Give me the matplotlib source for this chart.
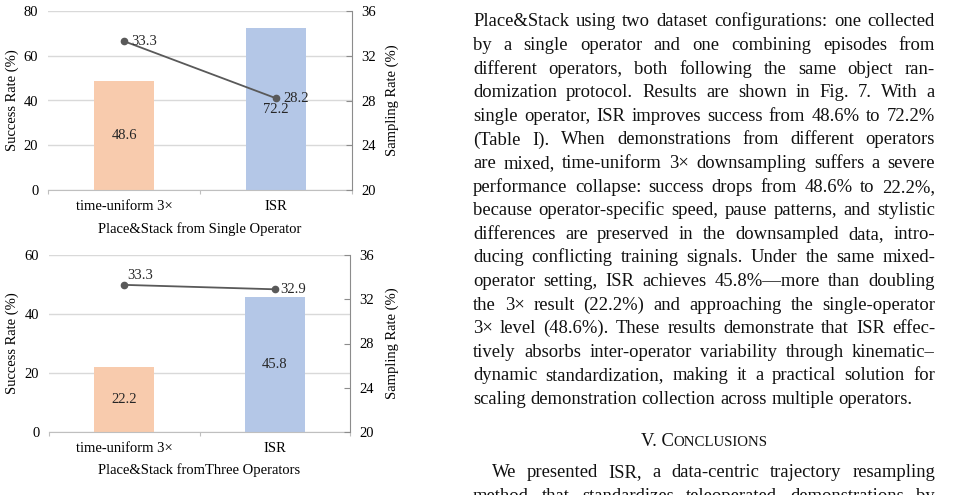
import matplotlib

matplotlib.use("Agg")
import matplotlib.pyplot as plt
from matplotlib.ticker import FixedLocator

plt.rcParams["font.family"] = ["Liberation Serif", "DejaVu Serif"]

W, H = 972, 495

CATEGORIES = ["time-uniform 3×", "ISR"]
SINGLE_SUCCESS = [48.6, 72.2]
SINGLE_SAMPLING = [33.3, 28.2]
MULTI_SUCCESS = [22.2, 45.8]
MULTI_SAMPLING = [33.3, 32.9]

BAR_COLORS = ["#F8CBAD", "#B4C7E7"]
LINE_COLOR = "#595959"
GRID_COLOR = "#D9D9D9"
AXIS_COLOR = "#8C8C8C"

PARAGRAPH = [
    "Place&Stack using two dataset configurations: one collected",
    "by a single operator and one combining episodes from",
    "different operators, both following the same object ran-",
    "domization protocol. Results are shown in Fig. 7. With a",
    "single operator, ISR improves success from 48.6% to 72.2%",
    "(Table I). When demonstrations from different operators",
    "are mixed, time-uniform 3× downsampling suffers a severe",
    "performance collapse: success drops from 48.6% to 22.2%,",
    "because operator-specific speed, pause patterns, and stylistic",
    "differences are preserved in the downsampled data, intro-",
    "ducing conflicting training signals. Under the same mixed-",
    "operator setting, ISR achieves 45.8%—more than doubling",
    "the 3× result (22.2%) and approaching the single-operator",
    "3× level (48.6%). These results demonstrate that ISR effec-",
    "tively absorbs inter-operator variability through kinematic–",
    "dynamic standardization, making it a practical solution for",
    "scaling demonstration collection across multiple operators.",
]
CONCLUSION = [
    "We presented ISR, a data-centric trajectory resampling",
    "method that standardizes teleoperated demonstrations by",
]

CHART_FS = 10.5
TEXT_FS = 13.4


def fx(px):
    return px / W


def fy(py):
    return 1 - py / H


def draw_panel(fig, rect_px, success, sampling, ymax, xlabel, xlabel_top, label_offsets):
    left, top, right, bottom = rect_px
    ax = fig.add_axes([fx(left), fy(bottom), (right - left) / W, (bottom - top) / H])
    x = range(len(CATEGORIES))
    ax.bar(x, success, width=0.4, color=BAR_COLORS, zorder=2)
    for i, v in enumerate(success):
        ax.text(i, v / 2, f"{v}", ha="center", va="center", fontsize=CHART_FS, color="#262626", zorder=3)

    ax.set_xlim(-0.5, 1.5)
    ax.set_ylim(0, ymax)
    ax.set_yticks(range(0, ymax + 1, 20))
    ax.set_xticks(list(x))
    ax.set_xticklabels(CATEGORIES, fontsize=CHART_FS)
    ax.xaxis.set_minor_locator(FixedLocator([-0.5, 0.5, 1.5]))
    ax.tick_params(axis="x", which="major", length=0, pad=7)
    ax.tick_params(axis="x", which="minor", length=3, color="#BFBFBF", width=0.8)
    ax.tick_params(axis="y", length=0, pad=7, labelsize=CHART_FS)
    ax.yaxis.grid(True, color=GRID_COLOR, linewidth=1.0, zorder=0)
    ax.set_axisbelow(True)
    for side in ["left", "top", "right"]:
        ax.spines[side].set_visible(False)
    ax.spines["bottom"].set_color("#BFBFBF")
    ax.set_ylabel("Success Rate (%)", fontsize=CHART_FS)
    # label anchor is its right edge; centre it near x=13 px
    ax.yaxis.set_label_coords((19 - left) / (right - left), 0.5)
    ax.set_xlabel(xlabel, fontsize=CHART_FS)
    ax.xaxis.set_label_coords(0.5, -(xlabel_top - bottom) / (bottom - top))

    ax2 = ax.twinx()
    ax2.set_ylim(20, 36)
    ax2.set_yticks(range(20, 37, 4))
    ax2.plot(list(x), sampling, color=LINE_COLOR, marker="o", markersize=4.5, linewidth=1.3)
    for i, v in enumerate(sampling):
        dx, dy = label_offsets[i]
        ax2.annotate(f"{v}", (i, v), xytext=(dx, dy), textcoords="offset points",
                     ha="left", va="center", fontsize=CHART_FS, color="#262626")
    for side in ["left", "top", "bottom"]:
        ax2.spines[side].set_visible(False)
    ax2.spines["right"].set_color(AXIS_COLOR)
    ax2.tick_params(axis="y", direction="in", length=4, color=AXIS_COLOR, pad=7, labelsize=CHART_FS)
    ax2.set_ylabel("Sampling Rate (%)", fontsize=CHART_FS)
    # label anchor is its left edge; centre it near x=392 px
    ax2.yaxis.set_label_coords((386 - left) / (right - left), 0.5)
    return ax, ax2


def set_line(fig, renderer, line, y_px, left, right, size, justify=True):
    words = line.split()
    items = [fig.text(0, fy(y_px), w, fontsize=size, va="baseline", ha="left", color="#111111") for w in words]
    widths = [t.get_window_extent(renderer).width for t in items]
    space = size * 100 / 72 * 0.25
    if justify and len(words) > 1:
        gap = (right - left - sum(widths)) / (len(words) - 1)
    else:
        gap = space
    xpos = left
    for t, w in zip(items, widths):
        t.set_x(fx(xpos))
        xpos += w + gap


def main():
    fig = plt.figure(figsize=(W / 100, H / 100), dpi=100)
    fig.patch.set_facecolor("white")

    draw_panel(fig, (48, 11, 352, 190), SINGLE_SUCCESS, SINGLE_SAMPLING, 80,
               "Place&Stack from Single Operator", 222, [(5, 0), (5, 0)])
    draw_panel(fig, (49, 255, 350, 432), MULTI_SUCCESS, MULTI_SAMPLING, 60,
               "Place&Stack fromThree Operators", 463, [(2, 7), (4, 0)])

    renderer = fig.canvas.get_renderer()
    col_left, col_right = 473, 935
    for k, line in enumerate(PARAGRAPH):
        set_line(fig, renderer, line, 26.5 + 23.6 * k, col_left, col_right, TEXT_FS,
                 justify=k < len(PARAGRAPH) - 1)

    # small-caps section heading
    parts = [("V. C", TEXT_FS), ("ONCLUSIONS", TEXT_FS * 0.8)]
    items = [fig.text(0, fy(446), s, fontsize=fs, va="baseline", color="#111111") for s, fs in parts]
    widths = [t.get_window_extent(renderer).width for t in items]
    xpos = (col_left + col_right) / 2 - sum(widths) / 2
    for t, w in zip(items, widths):
        t.set_x(fx(xpos))
        xpos += w

    set_line(fig, renderer, CONCLUSION[0], 477, 492, col_right, TEXT_FS)
    set_line(fig, renderer, CONCLUSION[1], 500.6, col_left, col_right, TEXT_FS)

    fig.savefig("out.png", dpi=100)
    plt.close(fig)


if __name__ == "__main__":
    main()
